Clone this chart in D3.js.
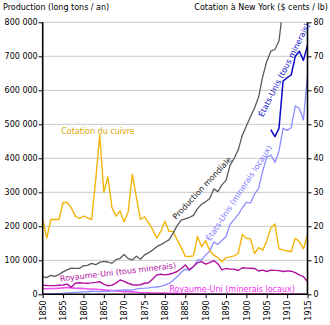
<!DOCTYPE html>
<html>
<head>
<meta charset="utf-8">
<script src="https://cdn.jsdelivr.net/npm/d3@7"></script>
<style>
  html, body { margin: 0; padding: 0; background: #fff; }
  svg { display: block; font-family: "DejaVu Sans", sans-serif; }
</style>
</head>
<body>
<svg id="chart" width="330" height="325"></svg>
<script>
// Years covered by every series
const years = d3.range(1850, 1916);

// World copper production (long tons)
const worldProduction = [
  52000, 49000, 56000, 53000, 58000, 66000, 72000, 77000, 76000, 76000,
  84000, 85000, 91000, 87000, 94000, 97000, 95000, 91000, 102000, 106000,
  117000, 105000, 101000, 112000, 103000, 116000, 122000, 130000, 140000, 146000,
  153000, 160000, 180000, 202000, 218000, 222000, 226000, 232000, 252000, 265000,
  272000, 282000, 310000, 302000, 322000, 335000, 380000, 400000, 425000, 468000,
  495000, 522000, 548000, 580000, 640000, 685000, 715000, 720000, 745000, 845000,
  860000, 880000, 1010000, 1000000, 920000, 1080000
];

// New York copper price (US cents / lb)
const copperPrice = [
  22, 16.5, 22, 22, 22, 27, 27, 25.5, 23, 22.3,
  23, 22.5, 22, 33.5, 47, 30, 34.5, 25.5, 23, 24.5,
  21.3, 24.3, 35.3, 28.5, 22, 22.8, 21, 19, 16.5, 18.5,
  21.5, 18.5, 18.5, 16, 13.8, 11.2, 11.1, 11.3, 17, 14,
  15.8, 12.8, 11.5, 10.8, 9.6, 10.8, 11, 11.3, 12, 17.6,
  16.5, 16.3, 12, 13.7, 13, 15.7, 19.5, 20.7, 13.4, 13,
  12.8, 12.5, 16.5, 15.5, 13.4, 17.5
];

// United Kingdom, copper smelted from all ores (long tons)
const ukAllOres = [
  27000, 26000, 25500, 25500, 26500, 27500, 30000, 21000, 32500, 34000,
  33000, 32500, 33500, 35000, 37000, 30000, 25000, 27000, 33000, 42000,
  38000, 32500, 28000, 27500, 28000, 32500, 34000, 45000, 57000, 59000,
  57000, 59000, 62000, 67000, 76000, 86000, 72000, 82000, 93000, 96000,
  89000, 93000, 99000, 90000, 72000, 76000, 74000, 74000, 70000, 78000,
  77000, 76500, 76000, 68500, 71000, 67000, 71000, 70500, 69500, 67000,
  69000, 68000, 64000, 57000, 52000, 37000
];

// United Kingdom, copper from domestic ores (long tons)
const ukLocalOres = [
  17000, 16500, 17000, 17000, 18000, 19000, 20000, 19000, 18000, 17500,
  17000, 16000, 15500, 15000, 14000, 13000, 12000, 11000, 10000, 9000,
  8000, 7500, 7000, 6000, 5000, 4500, 4200, 4000, 3800, 3600,
  3500, 3200, 3000, 2800, 2500, 2200, 2000, 1800, 1500, 1200,
  1000, 900, 850, 800, 750, 700, 700, 650, 650, 650,
  650, 600, 600, 600, 600, 600, 550, 550, 500, 500,
  450, 450, 450, 400, 400, 400
];

// United States, copper from domestic ores (long tons)
const usLocalOres = [
  650, 900, 1100, 2000, 2250, 3000, 4000, 4800, 5500, 6300,
  7200, 7500, 9000, 8500, 8000, 8500, 8900, 10000, 11600, 12500,
  12600, 13000, 12500, 15500, 17500, 18000, 19000, 21000, 21500, 23000,
  27000, 32000, 40500, 51600, 64700, 74000, 70400, 81000, 101000, 101200,
  116000, 126800, 154000, 147000, 158100, 169900, 205400, 220600, 235000, 253900,
  270600, 268800, 294400, 311600, 362700, 402600, 409700, 387900, 420800, 488100,
  482200, 489800, 554000, 546600, 512800, 646200
];

// United States, copper smelted from all ores (long tons), reported from 1906
const usAllOres = [
  null, null, null, null, null, null, null, null, null, null,
  null, null, null, null, null, null, null, null, null, null,
  null, null, null, null, null, null, null, null, null, null,
  null, null, null, null, null, null, null, null, null, null,
  null, null, null, null, null, null, null, null, null, null,
  null, null, null, null, null, null, 484000, 464000, 488000, 627000,
  637000, 645000, 700000, 715000, 688000, 733000
];

const tonTicks = [0, 100000, 200000, 300000, 400000, 500000, 600000, 700000, 800000];
const priceTicks = [0, 10, 20, 30, 40, 50, 60, 70, 80];
const yearTicks = d3.range(1850, 1916, 5);

const svg = d3.select("#chart");
const plotLeft = 42.7, plotRight = 307.5, plotTop = 22.3, plotBottom = 294.3;

const x = d3.scaleLinear().domain([1850, 1915]).range([plotLeft, plotRight]);
const yTons = d3.scaleLinear().domain([0, 800000]).range([plotBottom, plotTop]);
const yPrice = d3.scaleLinear().domain([0, 80]).range([plotBottom, plotTop]);

const fmtTons = v => v === 0 ? "0" : d3.format(",")(v).replace(/,/g, "\u00a0");

// horizontal grid
svg.append("g")
  .selectAll("line")
  .data(tonTicks.filter(v => v > 0))
  .join("line")
  .attr("x1", plotLeft).attr("x2", plotRight)
  .attr("y1", d => yTons(d)).attr("y2", d => yTons(d))
  .attr("stroke", "#c8c8c8").attr("stroke-width", 1);

svg.append("defs").append("clipPath").attr("id", "plot")
  .append("rect").attr("x", plotLeft).attr("y", plotTop)
  .attr("width", plotRight - plotLeft).attr("height", plotBottom - plotTop);

const plot = svg.append("g").attr("clip-path", "url(#plot)");

function drawSeries(values, yScale, color, width) {
  const line = d3.line()
    .defined(d => d[1] !== null)
    .x(d => x(d[0]))
    .y(d => yScale(d[1]));
  plot.append("path")
    .datum(years.map((yr, i) => [yr, values[i]]))
    .attr("fill", "none")
    .attr("stroke", color)
    .attr("stroke-width", width)
    .attr("stroke-linejoin", "round")
    .attr("d", line);
}

drawSeries(ukLocalOres, yTons, "#f050f0", 1.6);
drawSeries(usLocalOres, yTons, "#8c8cff", 1.3);
drawSeries(ukAllOres, yTons, "#b0109f", 1.4);
drawSeries(copperPrice, yPrice, "#f2b40c", 1.4);
drawSeries(worldProduction, yTons, "#5a5a5a", 1.3);
drawSeries(usAllOres, yTons, "#0a0ac8", 1.5);

// axes
const axisFont = g => g.selectAll("text")
  .attr("font-family", "DejaVu Sans, sans-serif")
  .attr("font-size", 8).attr("fill", "#000");

const leftAxis = svg.append("g")
  .attr("transform", `translate(${plotLeft},0)`)
  .call(d3.axisLeft(yTons).tickValues(tonTicks).tickFormat(fmtTons).tickSize(4).tickPadding(1))
  .call(axisFont);

const rightAxis = svg.append("g")
  .attr("transform", `translate(${plotRight},0)`)
  .call(d3.axisRight(yPrice).tickValues(priceTicks).tickSize(4).tickPadding(2))
  .call(axisFont);

const bottomAxis = svg.append("g")
  .attr("transform", `translate(0,${plotBottom})`)
  .call(d3.axisBottom(x).tickValues(yearTicks).tickFormat(d3.format("d")).tickSize(4).tickPadding(2))
  .call(axisFont);

bottomAxis.selectAll("text")
  .attr("transform", "rotate(-90)")
  .attr("text-anchor", "end")
  .attr("x", -6).attr("y", 0).attr("dy", "0.33em");

[leftAxis, rightAxis, bottomAxis].forEach(g => {
  g.select(".domain").attr("stroke", "#000").attr("stroke-width", 1.6);
  g.selectAll(".tick line").attr("stroke", "#000").attr("stroke-width", 1);
});
leftAxis.select(".domain").attr("d", `M0,${plotTop}V${plotBottom}`);
rightAxis.select(".domain").attr("d", `M0,${plotTop}V${plotBottom}`);
bottomAxis.select(".domain").attr("d", `M${plotLeft},0H${plotRight}`);

// titles
svg.append("text").attr("x", 3).attr("y", 10)
  .attr("font-size", 8).text("Production (long tons / an)");
svg.append("text").attr("x", 328).attr("y", 10).attr("text-anchor", "end")
  .attr("font-size", 8).text("Cotation à New York ($ cents / lb)");

// series labels
const labels = [
  { text: "Cotation du cuivre", cx: 98, cy: 131, angle: 0, color: "#d9a400" },
  { text: "Production mondiale", cx: 202, cy: 188, angle: -47, color: "#222" },
  { text: "États-Unis (minerais locaux)", cx: 239, cy: 193, angle: -56.5, color: "#7878ff" },
  { text: "États-Unis (tous minerais)", cx: 284, cy: 70, angle: -63, color: "#1010c8" },
  { text: "Royaume-Uni (tous minerais)", cx: 118, cy: 272, angle: -6.5, color: "#b0109f" },
  { text: "Royaume-Uni (minerais locaux)", cx: 232, cy: 289, angle: 0, color: "#f030f0" }
];

svg.append("g").selectAll("text")
  .data(labels)
  .join("text")
  .attr("transform", d => `translate(${d.cx},${d.cy}) rotate(${d.angle})`)
  .attr("text-anchor", "middle")
  .attr("dy", "0.35em")
  .attr("font-size", 8)
  .attr("fill", d => d.color)
  .text(d => d.text);
</script>
</body>
</html>
